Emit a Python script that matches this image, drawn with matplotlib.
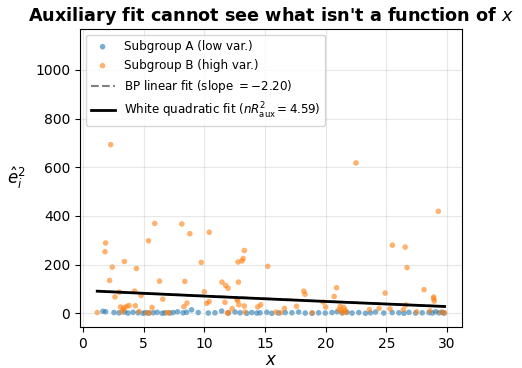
import numpy as np
import matplotlib
matplotlib.use("Agg")
import matplotlib.pyplot as plt

# --- data ---
# Subgroup A (low variance): x and squared residuals
a_x = [1.65, 1.87, 2.56, 2.97, 3.44, 3.72, 4.13, 4.55, 4.96, 5.15, 5.43, 5.79,
       6.12, 6.53, 6.75, 7.16, 7.44, 7.80, 8.26, 8.54, 8.95, 9.50, 10.33, 10.88,
       11.43, 11.98, 12.53, 12.95, 13.50, 13.91, 14.33, 14.60, 15.15, 15.56,
       16.12, 16.67, 17.22, 17.77, 18.32, 18.88, 19.42, 19.97, 20.52, 20.94,
       21.35, 21.76, 22.18, 22.73, 23.28, 23.69, 24.11, 24.79, 25.48, 26.03,
       26.45, 26.86, 27.41, 27.96, 28.51, 28.79, 29.06, 29.34, 29.61, 29.75]
a_y = [8, 6, 3, 2, 5, 1, 4, 2, 0, 3, 1, 2,
       4, 0, 2, 1, 3, 6, 2, 4, 14, 3, 1, 2,
       9, 1, 5, 2, 0, 3, 1, 2, 4, 0,
       1, 3, 2, 5, 1, 0, 2, 1, 3, 6,
       2, 4, 1, 3, 0, 2, 5, 1, 3, 2,
       0, 4, 1, 2, 3, 1, 6, 2, 4, 1]

# Subgroup B (high variance)
b_x = [1.18, 1.82, 1.87, 2.20, 2.29, 2.42, 2.64, 3.00, 3.10, 3.20, 3.30, 3.39,
       3.42, 3.60, 3.80, 4.27, 4.32, 4.41, 4.63, 4.79, 5.30, 5.40, 5.50, 5.70,
       5.92, 6.31, 6.58, 6.90, 7.10, 8.15, 8.32, 8.40, 8.57, 8.81, 9.75, 10.00,
       10.20, 10.40, 10.41, 11.46, 11.70, 11.76, 11.90, 11.96, 12.00, 12.30,
       12.70, 12.75, 12.78, 12.81, 12.85, 13.10, 13.20, 13.30, 13.30, 13.35,
       14.40, 14.65, 15.23, 15.90, 16.30, 16.60, 17.60, 18.20, 18.30, 18.90,
       19.80, 20.00, 20.70, 20.90, 21.10, 21.20, 21.30, 21.40, 21.50, 21.60,
       21.70, 22.50, 23.60, 24.40, 24.90, 25.30, 25.50, 26.40, 26.55, 26.60,
       26.70, 27.50, 28.10, 28.60, 28.90, 28.90, 28.95, 29.28, 29.50, 29.80]
b_y = [3, 253, 289, 135, 693, 190, 67, 87, 26, 5, 13, 23,
       213, 28, 32, 91, 31, 184, 7, 73, 1, 298, 2, 24,
       369, 132, 58, 2, 3, 367, 27, 131, 42, 327, 209, 88,
       41, 48, 333, 128, 45, 114, 1, 103, 3, 19,
       57, 52, 211, 128, 35, 215, 225, 258, 30, 5,
       26, 35, 193, 5, 2, 20, 29, 91, 78, 2,
       46, 26, 69, 105, 15, 28, 8, 2, 24, 12,
       4, 618, 15, 20, 83, 18, 280, 15, 272, 34,
       188, 6, 97, 10, 67, 60, 50, 419, 4, 2]

# fitted auxiliary regressions (highest power first)
bp_coef = [-2.20, 93.4]
white_coef = [0.005, -2.35, 93.6]
white_stat = 4.59

x_all = np.array(a_x + b_x)
xx = np.linspace(x_all.min(), x_all.max(), 200)

fig, ax = plt.subplots(figsize=(5.22, 3.68), dpi=100)
fig.subplots_adjust(left=0.153, right=0.885, top=0.921, bottom=0.111)

ax.scatter(a_x, a_y, s=16, color='tab:blue', alpha=0.6, edgecolors='none',
           label='Subgroup A (low var.)')
ax.scatter(b_x, b_y, s=16, color='tab:orange', alpha=0.6, edgecolors='none',
           label='Subgroup B (high var.)')
ax.plot(xx, np.polyval(bp_coef, xx), '--', color='gray', lw=1.5,
        label=f'BP linear fit (slope $= {bp_coef[0]:.2f}$)')
ax.plot(xx, np.polyval(white_coef, xx), color='black', lw=2,
        label=f'White quadratic fit ($nR^2_{{\\rm aux}} = {white_stat:.2f}$)')

ax.set_ylim(-57, 1168)
ax.set_xlabel('$x$', fontsize=12, labelpad=0)
ax.set_ylabel(r'$\hat{e}_i^2$', fontsize=12, rotation=0, va='center')
ax.yaxis.set_label_coords(-0.165, 0.5)
ax.set_title("Auxiliary fit cannot see what isn't a function of $x$",
             fontsize=12.7, fontweight='bold')
ax.tick_params(labelsize=10)
ax.grid(alpha=0.3)
ax.legend(loc='upper left', fontsize=8.6)

fig.savefig('out.png', dpi=100)
